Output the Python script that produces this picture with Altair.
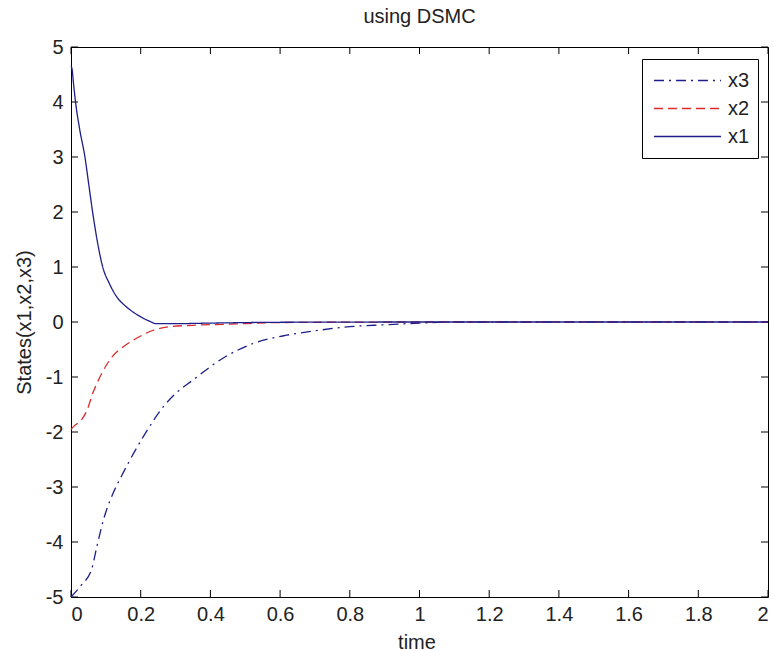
import altair as alt
import pandas as pd

# ---- data ----
x1_t = [0, 0.003, 0.007, 0.013, 0.025, 0.04, 0.051, 0.062, 0.076, 0.091, 0.11, 0.131, 0.16, 0.188, 0.22, 0.246, 0.3, 0.4, 0.6, 1.0, 2.0]
x1_v = [4.65, 4.6, 4.35, 4.0, 3.5, 3.0, 2.5, 2.0, 1.45, 1.0, 0.7, 0.46, 0.27, 0.14, 0.03, -0.03, -0.03, -0.02, -0.005, 0, 0]

x2_t = [0, 0.011, 0.03, 0.045, 0.064, 0.083, 0.1, 0.121, 0.15, 0.179, 0.21, 0.236, 0.284, 0.35, 0.45, 0.6, 1.0, 2.0]
x2_v = [-1.95, -1.88, -1.78, -1.62, -1.27, -1.0, -0.8, -0.61, -0.45, -0.33, -0.22, -0.15, -0.085, -0.06, -0.04, -0.01, 0, 0]

x3_t = [0, 0.03, 0.059, 0.074, 0.093, 0.121, 0.145, 0.169, 0.207, 0.265, 0.3, 0.351, 0.428, 0.523, 0.619, 0.7, 0.8, 0.9, 1.0, 1.1, 2.0]
x3_v = [-5.0, -4.78, -4.5, -4.09, -3.6, -3.11, -2.8, -2.51, -2.09, -1.54, -1.3, -1.05, -0.69, -0.39, -0.24, -0.16, -0.085, -0.05, -0.02, 0, 0]

series_names = ["x3", "x2", "x1"]
series_colors = ["#1e1e8c", "#dd2a2a", "#1e1e8c"]
series_dash = [[10, 5, 2, 5], [9, 5], [1, 0]]

x_ticks = [0, 0.2, 0.4, 0.6, 0.8, 1.0, 1.2, 1.4, 1.6, 1.8, 2.0]
y_ticks = [-5, -4, -3, -2, -1, 0, 1, 2, 3, 4, 5]

# ---- build tables ----
rows = []
for name, ts, vs in [("x3", x3_t, x3_v), ("x2", x2_t, x2_v), ("x1", x1_t, x1_v)]:
    for i, (t, v) in enumerate(zip(ts, vs)):
        rows.append({"series": name, "time": t, "value": v, "order": i})
df = pd.DataFrame(rows)
xt = pd.DataFrame({"t": x_ticks})
yt = pd.DataFrame({"v": y_ticks})

W, H = 697, 550
FONT = "Liberation Sans"

xscale = alt.Scale(domain=[0, 2], nice=False, zero=False)
yscale = alt.Scale(domain=[-5, 5], nice=False, zero=False)

x_axis = alt.Axis(values=x_ticks, labelExpr="'' + datum.value", title="time", ticks=False, domain=False, grid=False,
                  labelPadding=7, labelFontSize=20, labelFont=FONT, labelColor="#222",
                  titleFontSize=20, titleFont=FONT, titleFontWeight="normal", titleColor="#222",
                  titleBaseline="alphabetic", titleY=51, titleX=W / 2 - 3)
y_axis = alt.Axis(values=y_ticks, labelExpr="'' + datum.value", title="States(x1,x2,x3)", ticks=False, domain=False, grid=False,
                  labelPadding=8, labelFontSize=20, labelFont=FONT, labelColor="#222",
                  titleFontSize=20, titleFont=FONT, titleFontWeight="normal", titleColor="#222",
                  titleBaseline="alphabetic", titleX=-41, titleY=H / 2, titleAngle=-90, titleAlign="center")

lines = alt.Chart(df).mark_line(strokeWidth=1.3, interpolate="monotone").encode(
    x=alt.X("time:Q", scale=xscale, axis=x_axis),
    y=alt.Y("value:Q", scale=yscale, axis=y_axis),
    color=alt.Color("series:N", scale=alt.Scale(domain=series_names, range=series_colors), title=None),
    strokeDash=alt.StrokeDash("series:N", scale=alt.Scale(domain=series_names, range=series_dash), title=None),
    order="order:Q",
)

tick_len = 7
bx = alt.Chart(xt).mark_rule(color="black", strokeWidth=1).encode(
    x=alt.X("t:Q", scale=xscale), y=alt.value(H), y2=alt.value(H - tick_len))
tx = alt.Chart(xt).mark_rule(color="black", strokeWidth=1).encode(
    x=alt.X("t:Q", scale=xscale), y=alt.value(0), y2=alt.value(tick_len))
ly = alt.Chart(yt).mark_rule(color="black", strokeWidth=1).encode(
    y=alt.Y("v:Q", scale=yscale), x=alt.value(0), x2=alt.value(tick_len))
ry = alt.Chart(yt).mark_rule(color="black", strokeWidth=1).encode(
    y=alt.Y("v:Q", scale=yscale), x=alt.value(W), x2=alt.value(W - tick_len))

chart = alt.layer(bx, tx, ly, ry, lines).properties(
    width=W, height=H,
    title=alt.TitleParams("using DSMC", fontSize=20, font=FONT, fontWeight="normal", color="#222",
                          anchor="middle", offset=10),
    autosize=alt.AutoSizeParams(type="none"),
    padding={"left": 71, "top": 47, "right": 5, "bottom": 54},
    background="white",
).configure_view(
    stroke="black", strokeWidth=1
).configure_legend(
    orient="none", legendX=571, legendY=12,
    strokeColor="black", fillColor="white", padding=8, cornerRadius=0,
    symbolType="stroke", symbolSize=4489, symbolStrokeWidth=1.3, symbolOffset=3,
    clipHeight=27, rowPadding=1, labelFontSize=20, labelFont=FONT, labelColor="#222",
    labelOffset=6,
)

chart.save("out.html", embed_options={"renderer": "svg", "actions": False})
